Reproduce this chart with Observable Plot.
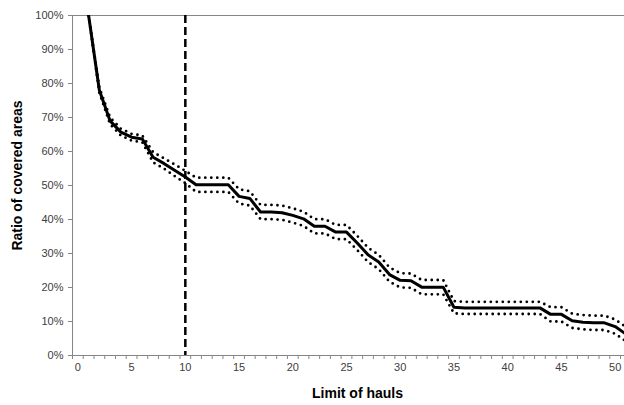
<!DOCTYPE html>
<html>
<head>
<meta charset="utf-8">
<script src="https://cdn.jsdelivr.net/npm/d3@7"></script>
<script src="https://cdn.jsdelivr.net/npm/@observablehq/plot@0.6"></script>
<style>
  html, body { margin: 0; padding: 0; background: #fff; }
</style>
</head>
<body>
<div id="chart"></div>
<script>
const hauls = [1,2,3,4,5,6,7,8,9,10,11,12,13,14,15,16,17,18,19,20,21,22,23,24,25,26,27,28,29,30,31,32,33,34,35,36,37,38,39,40,41,42,43,44,45,46,47,48,49,50,51];
const ratio = [100,78,69,65.7,64.2,63.7,58.3,56.5,54.5,52.5,50.2,50.2,50.2,50.2,46.8,46.2,42.2,42.2,42,41.2,40.2,38,38,36.3,36.3,33.1,29.6,27.5,23.8,22.1,22,20.1,20.1,20.1,14.2,14,14,14,14,14,14,14,14,12.1,12.1,10.2,9.8,9.6,9.6,8.5,6.3];
const upper = [100,78.8,70,66.7,65.2,64.7,59.8,58,56.2,54.3,52.3,52.3,52.3,52.3,48.9,48.3,44.3,44.3,44.1,43.3,42.3,40.1,40.1,38.4,38.4,35.2,31.7,29.6,25.9,24.2,24.1,22.2,22.2,22.2,16,15.8,15.8,15.8,15.8,15.8,15.8,15.8,15.8,14.2,14.2,12.3,11.9,11.7,11.7,10.6,8.4];
const lower = [100,77.2,68,64.7,63.2,62.7,56.8,55,52.8,50.7,48.1,48.1,48.1,48.1,44.7,44.1,40.1,40.1,39.9,39.1,38.1,35.9,35.9,34.2,34.2,31,27.5,25.4,21.7,20,19.9,18,18,18,12.4,12.2,12.2,12.2,12.2,12.2,12.2,12.2,12.2,10,10,8.1,7.7,7.5,7.5,6.4,4.2];
const xTickLabels = [0,5,10,15,20,25,30,35,40,45,50];
const yTicks = [0,10,20,30,40,50,60,70,80,90,100];
const cutoff = [10];
const xTitle = "Limit of hauls";
const yTitle = "Ratio of covered areas";

const mainData = hauls.map((h, i) => ({h, v: ratio[i]}));
const upData = hauls.map((h, i) => ({h, v: upper[i]}));
const loData = hauls.map((h, i) => ({h, v: lower[i]}));
// category boundaries (tick marks between categories)
const xTickMarks = d3.range(-0.5, 51, 1);

const grey = "#868686";

const chart = Plot.plot({
  width: 624,
  height: 405,
  marginLeft: 72,
  marginRight: 0,
  marginTop: 15,
  marginBottom: 50,
  style: {fontFamily: "'Liberation Sans', Arial, sans-serif", fontSize: "11px", color: "#404040", background: "#fff"},
  x: {domain: [-0.5, 50.87], axis: null},
  y: {domain: [0, 100], axis: null},
  marks: [
    Plot.ruleY([100], {stroke: grey, strokeWidth: 1}),
    Plot.axisX({ticks: xTickMarks, tickSize: 4, tickFormat: () => "", stroke: grey, label: null}),
    Plot.axisX({ticks: xTickLabels, tickSize: 0, tickPadding: 8, fill: "#404040", label: null}),
    Plot.axisY({ticks: yTicks, tickSize: 4, tickPadding: 5, tickFormat: d => d + "%", stroke: grey, fill: "#404040", label: null}),
    Plot.ruleY([0], {stroke: grey, strokeWidth: 1}),
    Plot.ruleX([-0.5], {stroke: grey, strokeWidth: 1}),
    Plot.ruleX(cutoff, {stroke: "#000", strokeWidth: 2.5, strokeDasharray: "8,4"}),
    Plot.line(upData, {x: "h", y: "v", stroke: "#000", strokeWidth: 2.8, strokeDasharray: "0,6", strokeLinecap: "round", clip: true}),
    Plot.line(loData, {x: "h", y: "v", stroke: "#000", strokeWidth: 2.8, strokeDasharray: "0,6", strokeLinecap: "round", clip: true}),
    Plot.line(mainData, {x: "h", y: "v", stroke: "#000", strokeWidth: 3, clip: true}),
    Plot.text([xTitle], {frameAnchor: "bottom", dx: 9, dy: 38, lineAnchor: "middle", textAnchor: "middle", fontWeight: "bold", fontSize: 14, fill: "#000"}),
    Plot.text([yTitle], {frameAnchor: "left", dx: -55, dy: -10, rotate: -90, textAnchor: "middle", lineAnchor: "middle", fontWeight: "bold", fontSize: 14, fill: "#000"})
  ]
});
document.getElementById("chart").appendChild(chart);
</script>
</body>
</html>
